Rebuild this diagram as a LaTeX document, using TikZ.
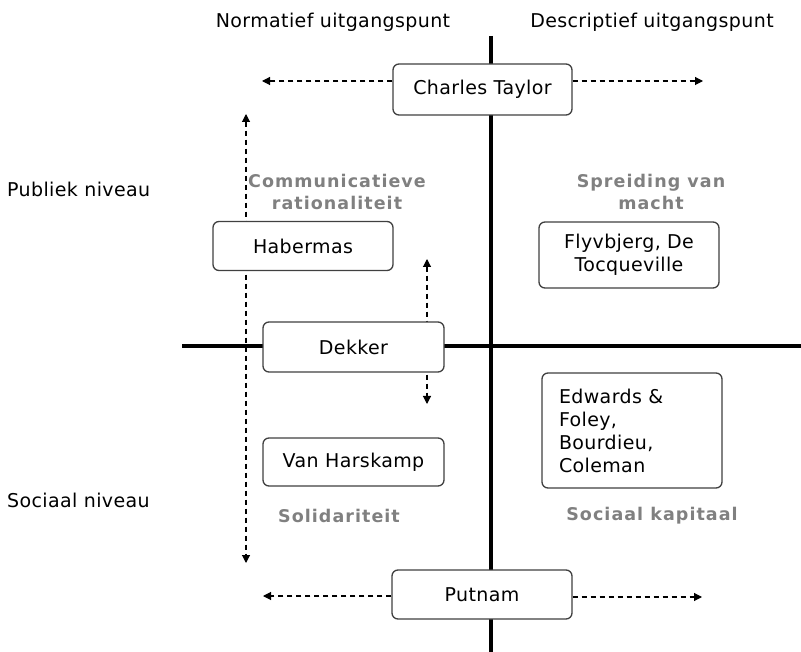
\documentclass[tikz,border=0pt]{standalone}
\usepackage{fontspec}
\setmainfont{DejaVu Sans}[LetterSpace=2]
\newfontfamily\themefont{DejaVu Sans}[LetterSpace=6]
\usetikzlibrary{arrows.meta}
\definecolor{labelgray}{HTML}{808080}
\definecolor{boxline}{HTML}{404040}
\begin{document}
\begin{tikzpicture}[x=1pt,y=-1pt,
  txt/.style={font=\fontsize{19}{23}\selectfont, inner sep=0pt},
  box/.style={txt, draw=boxline, line width=1.3pt, rounded corners=6pt,
    fill=white, align=center},
  theme/.style={font=\themefont\bfseries\fontsize{17.5}{22}\selectfont, text=labelgray,
    align=center, inner sep=0pt},
  axisline/.style={line width=4pt},
  dasharrow/.style={dash pattern=on 5pt off 4pt, line width=1.1pt,
    -{Triangle[length=8pt,width=8pt]}},
  twoway/.style={dasharrow, {Triangle[length=8pt,width=8pt]}-{Triangle[length=8pt,width=8pt]}}
]
\useasboundingbox (0,0) rectangle (801,652);

% axes
\coordinate (vtop) at (491,36);
\coordinate (vbot) at (491,652);
\coordinate (hleft) at (182,346);
\coordinate (hright) at (801,346);
\draw[axisline] (vtop) -- (vbot);
\draw[axisline] (hleft) -- (hright);

% vertical dashed double arrows
\coordinate (hvtop) at (246,114);
\coordinate (hvbot) at (246,563);
\draw[twoway] (hvtop) -- (hvbot);
\coordinate (dvtop) at (427,259);
\coordinate (dvbot) at (427,404);
\draw[twoway] (dvtop) -- (dvbot);

% axis headings
\node[txt, anchor=base] (norm) at (333,28) {Normatief uitgangspunt};
\node[txt, anchor=base] (descr) at (652,28) {Descriptief uitgangspunt};
\node[txt, anchor=base west] (publiek) at (7,197) {Publiek niveau};
\node[txt, anchor=base west] (sociaal) at (7,507) {Sociaal niveau};

% quadrant themes
\node[theme] (comm) at (337,192) {Communicatieve\\rationaliteit};
\node[theme] (spreid) at (651,192) {Spreiding van\\macht};
\node[theme] (solid) at (339,516) {Solidariteit};
\node[theme] (kapitaal) at (652,516) {Sociaal kapitaal};

% authors
\node[box, minimum width=179pt, minimum height=51pt] (ct) at (482.5,89.5) {Charles Taylor};
\node[box, minimum width=180pt, minimum height=49pt] (hab) at (303,246) {Habermas};
\node[box, minimum width=180pt, minimum height=66pt] (flyv) at (629,255) {Flyvbjerg, De\\Tocqueville};
\node[box, minimum width=181pt, minimum height=50pt] (dek) at (353.5,347) {Dekker};
\node[box, align=left, text width=146pt, inner xsep=17pt, minimum height=115pt] (edw) at (632,430.5) {Edwards \&\\Foley,\\Bourdieu,\\Coleman};
\node[box, minimum width=181pt, minimum height=48pt] (vh) at (353.5,462) {Van Harskamp};
\node[box, minimum width=180pt, minimum height=49pt] (put) at (482,594.5) {Putnam};

% horizontal dashed arrows
\coordinate (ctl) at (262,81);
\coordinate (ctr) at (703,81);
\draw[dasharrow] (ctl -| ct.west) -- (ctl);
\draw[dasharrow] (ctr -| ct.east) -- (ctr);
\coordinate (pl) at (263,596);
\coordinate (pr) at (702,597);
\draw[dasharrow] (pl -| put.west) -- (pl);
\draw[dasharrow] (pr -| put.east) -- (pr);
\end{tikzpicture}
\end{document}
